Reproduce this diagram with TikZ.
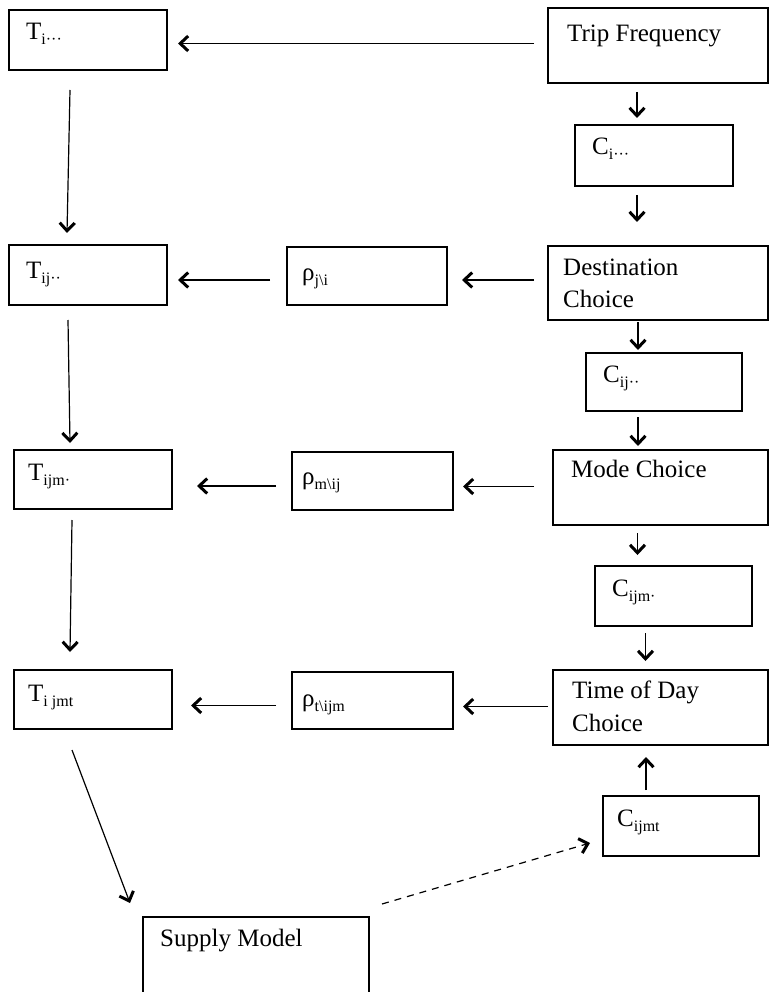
\documentclass[tikz,border=0pt]{standalone}
\usepackage{fontspec}
\setmainfont{Liberation Serif}
\usetikzlibrary{arrows.meta}
% small lowered index after a symbol
\newcommand\idx[1]{\raisebox{-5pt}{\fontsize{16}{16}\selectfont #1}}
\begin{document}
\begin{tikzpicture}[x=1pt,y=-1pt,
  box/.style={draw, line width=1.4pt, anchor=north west, inner sep=0pt, outer sep=0pt},
  lbl/.style={anchor=base west, inner sep=0pt, font=\fontsize{25}{32}\selectfont},
  arr/.style={line width=1.2pt, -{Straight Barb[length=8pt,width=15pt,line width=3pt]}},
  dsh/.style={arr, dash pattern=on 7pt off 6pt}]
\useasboundingbox (0,0) rectangle (770,992);
\clip (0,0) rectangle (770,992);

% ---- boxes ----
\node[box, minimum width=158pt, minimum height=60pt] (ti)    at (9,10)   {};
\node[box, minimum width=220pt, minimum height=75pt] (tf)    at (548,8)  {};
\node[box, minimum width=158pt, minimum height=61pt] (ci)    at (575,125) {};
\node[box, minimum width=158pt, minimum height=60pt] (tij)   at (9,245)  {};
\node[box, minimum width=160pt, minimum height=58pt] (rj)    at (287,247) {};
\node[box, minimum width=220pt, minimum height=74pt] (dc)    at (548,246) {};
\node[box, minimum width=156pt, minimum height=58pt] (cij)   at (586,353) {};
\node[box, minimum width=158pt, minimum height=59pt] (tijm)  at (14,450) {};
\node[box, minimum width=161pt, minimum height=58pt] (rm)    at (292,452) {};
\node[box, minimum width=215pt, minimum height=75pt] (mc)    at (553,450) {};
\node[box, minimum width=157pt, minimum height=60pt] (cijm)  at (595,566) {};
\node[box, minimum width=158pt, minimum height=59pt] (tijmt) at (14,670) {};
\node[box, minimum width=161pt, minimum height=57pt] (rt)    at (292,672) {};
\node[box, minimum width=215pt, minimum height=75pt] (tod)   at (553,670) {};
\node[box, minimum width=156pt, minimum height=60pt] (cijmt) at (603,796) {};
\node[box, minimum width=226pt, minimum height=95pt] (sm)    at (143,917) {};

% ---- texts ----
\node[lbl] (tiT)    at ([shift={(17pt,-30pt)}]ti.north west)    {T\idx{i···}};
\node[lbl] (tfT)    at ([shift={(19pt,-34pt)}]tf.north west)    {Trip Frequency};
\node[lbl] (ciT)    at ([shift={(17pt,-30pt)}]ci.north west)    {C\idx{i···}};
\node[lbl] (tijT)   at ([shift={(17pt,-33pt)}]tij.north west)   {T\idx{ij··}};
\node[lbl] (rjT)    at ([shift={(15pt,-33pt)}]rj.north west)    {ρ\idx{j\textbackslash i}};
\node[lbl] (dcT)    at ([shift={(15pt,-29pt)}]dc.north west)    {Destination};
\node[lbl] (dcT2)   at ([shift={(15pt,-61pt)}]dc.north west)    {Choice};
\node[lbl] (cijT)   at ([shift={(17pt,-29pt)}]cij.north west)   {C\idx{ij··}};
\node[lbl] (tijmT)  at ([shift={(14pt,-30pt)}]tijm.north west)  {T\idx{ijm·}};
\node[lbl] (rmT)    at ([shift={(10pt,-32pt)}]rm.north west)    {ρ\idx{m\textbackslash ij}};
\node[lbl] (mcT)    at ([shift={(18pt,-27pt)}]mc.north west)    {Mode Choice};
\node[lbl] (cijmT)  at ([shift={(17pt,-30pt)}]cijm.north west)  {C\idx{ijm·}};
\node[lbl] (tijmtT) at ([shift={(14pt,-31pt)}]tijmt.north west) {T\idx{i jmt}};
\node[lbl] (rtT)    at ([shift={(10pt,-34pt)}]rt.north west)    {ρ\idx{t\textbackslash ijm}};
\node[lbl] (todT)   at ([shift={(19pt,-28pt)}]tod.north west)   {Time of Day};
\node[lbl] (todT2)  at ([shift={(19pt,-61pt)}]tod.north west)   {Choice};
\node[lbl] (cijmtT) at ([shift={(14pt,-30pt)}]cijmt.north west) {C\idx{ijmt}};
\node[lbl] (smT)    at ([shift={(17pt,-29pt)}]sm.north west)    {Supply Model};

% ---- connectors ----
% demand chain down the right column
\draw[arr, shorten <=14pt, shorten >=11pt] ([yshift=2pt]tf.west) -- ([yshift=2pt]tf.west -| ti.east);
\draw[arr, shorten <=9pt, shorten >=7pt] ([xshift=-21pt]tf.south) -- ([xshift=-21pt]tf.south |- ci.north);
\draw[arr, shorten <=9pt, shorten >=24pt] ([xshift=-17pt]ci.south) -- ([xshift=-17pt]ci.south |- dc.north);
\draw[arr, shorten <=2pt, shorten >=3pt] ([xshift=-20pt]dc.south) -- ([xshift=-20pt]dc.south |- cij.north);
\draw[arr, shorten <=6pt, shorten >=4pt] ([xshift=-26pt]cij.south) -- ([xshift=-26pt]cij.south |- mc.north);
\draw[arr, shorten <=8pt, shorten >=11pt] ([xshift=-23pt]mc.south) -- ([xshift=-23pt]mc.south |- cijm.north);
\draw[arr, shorten <=7pt, shorten >=9pt] ([xshift=-28pt]cijm.south) -- ([xshift=-28pt]cijm.south |- tod.north);
\draw[arr, shorten <=6pt, shorten >=12pt] ([xshift=-35pt]cijmt.north) -- ([xshift=-35pt]cijmt.north |- tod.south);

% probabilities passed to the left
\draw[arr, shorten <=14pt, shorten >=15pt] ([yshift=3pt]dc.west) -- ([yshift=3pt]dc.west -| rj.east);
\draw[arr, shorten <=17pt, shorten >=11pt] ([yshift=-4pt]rj.west) -- ([yshift=-4pt]rj.west -| tij.east);
\draw[arr, shorten <=19pt, shorten >=10pt] ([yshift=1pt]mc.west) -- ([yshift=1pt]mc.west -| rm.east);
\draw[arr, shorten <=16pt, shorten >=25pt] ([yshift=-5pt]rm.west) -- ([yshift=-5pt]rm.west -| tijm.east);
\draw[arr, shorten <=5pt, shorten >=10pt] ([yshift=1pt]tod.west) -- ([yshift=1pt]tod.west -| rt.east);
\draw[arr, shorten <=16pt, shorten >=19pt] ([yshift=-5pt]rt.west) -- ([yshift=-5pt]rt.west -| tijmt.east);

% trip tables down the left column
\draw[arr] ([shift={(61pt,-20pt)}]ti.south west) -- ([shift={(58pt,12pt)}]tij.north west);
\draw[arr] ([shift={(59pt,-15pt)}]tij.south west) -- ([shift={(56pt,7pt)}]tijm.north west);
\draw[arr] ([shift={(58pt,-11pt)}]tijm.south west) -- ([shift={(56pt,18pt)}]tijmt.north west);
\draw[arr] ([shift={(58pt,-21pt)}]tijmt.south west) -- ([shift={(-13pt,14pt)}]sm.north west);

% feedback from the supply side
\draw[dsh] ([shift={(13pt,13pt)}]sm.north east) -- ([shift={(-13pt,13pt)}]cijmt.south west);
\end{tikzpicture}
\end{document}
